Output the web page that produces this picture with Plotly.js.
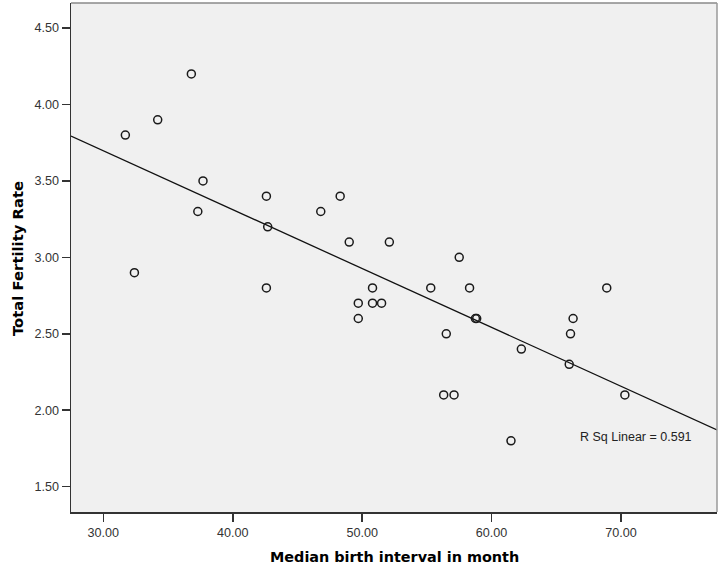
<!DOCTYPE html>
<html>
<head>
<meta charset="utf-8">
<script src="https://cdn.plot.ly/plotly-3.0.1.min.js"></script>
<style>html,body{margin:0;padding:0;background:#fff}#chart{width:718px;height:569px}</style>
</head>
<body>
<div id="chart"></div>
<script>
// Median birth interval (months)
const birthInterval = [31.7, 34.2, 36.8, 37.7, 37.3, 32.4, 42.6, 42.7, 42.6, 46.8, 48.3, 49.0, 52.1, 50.8, 49.7, 50.8, 51.5, 49.7, 55.3, 57.5, 58.3, 58.75, 58.85, 56.5, 56.3, 57.1, 62.3, 68.9, 66.3, 66.1, 66.0, 70.3, 61.5];
// Total fertility rate
const fertilityRate = [3.8, 3.9, 4.2, 3.5, 3.3, 2.9, 3.4, 3.2, 2.8, 3.3, 3.4, 3.1, 3.1, 2.8, 2.7, 2.7, 2.7, 2.6, 2.8, 3.0, 2.8, 2.6, 2.6, 2.5, 2.1, 2.1, 2.4, 2.8, 2.6, 2.5, 2.3, 2.1, 1.8];
const xTickVals = [30, 40, 50, 60, 70];
const xTickText = ["30.00", "40.00", "50.00", "60.00", "70.00"];
const yTickVals = [1.5, 2.0, 2.5, 3.0, 3.5, 4.0, 4.5];
const yTickText = ["1.50", "2.00", "2.50", "3.00", "3.50", "4.00", "4.50"];
const rSqLabel = "R Sq Linear = 0.591";

// least squares fit line from the data
const n = birthInterval.length;
const mx = birthInterval.reduce((a, b) => a + b, 0) / n;
const my = fertilityRate.reduce((a, b) => a + b, 0) / n;
let sxy = 0, sxx = 0;
for (let i = 0; i < n; i++) { sxy += (birthInterval[i] - mx) * (fertilityRate[i] - my); sxx += (birthInterval[i] - mx) ** 2; }
const slope = sxy / sxx, intercept = my - slope * mx;
const xRange = [27.5, 77.42];
const yRange = [1.334, 4.664];
const fitX = xRange.slice();
const fitY = fitX.map(x => intercept + slope * x);

const tickFont = {family: "Liberation Sans, Arial, sans-serif", size: 12.6, color: "#333"};

const data = [
  {x: fitX, y: fitY, mode: "lines", type: "scatter", line: {color: "#111", width: 1.3}, hoverinfo: "skip", cliponaxis: true},
  {x: birthInterval, y: fertilityRate, mode: "markers", type: "scatter",
   marker: {symbol: "circle-open", size: 8, color: "#1a1a1a", line: {width: 1.5, color: "#1a1a1a"}}}
];

const layout = {
  width: 718, height: 569,
  margin: {l: 71, r: 1, t: 3, b: 57},
  paper_bgcolor: "#ffffff",
  plot_bgcolor: "#f0f0f0",
  showlegend: false,
  xaxis: {range: xRange, tickvals: xTickVals, ticktext: xTickText, showgrid: false, zeroline: false,
          showline: true, linecolor: "#333", linewidth: 1.5, ticks: "outside", ticklen: 8, tickwidth: 1.5, tickcolor: "#333",
          tickfont: tickFont},
  yaxis: {range: yRange, tickvals: yTickVals, ticktext: yTickText, showgrid: false, zeroline: false,
          showline: true, linecolor: "#333", linewidth: 1.5, ticks: "outside", ticklen: 8, tickwidth: 1.5, tickcolor: "#333",
          tickfont: tickFont},
  shapes: [
    {type: "line", xref: "paper", yref: "paper", x0: 0, x1: 1, y0: 1, y1: 1, line: {color: "#8a8a8a", width: 1.5}},
    {type: "line", xref: "paper", yref: "paper", x0: 1, x1: 1, y0: 0, y1: 1, line: {color: "#9a9a9a", width: 1.5}}
  ],
  annotations: [
    {text: rSqLabel, xref: "paper", yref: "paper", x: 0.785, y: 0.148, xanchor: "left", yanchor: "middle", showarrow: false,
     font: {family: "Liberation Sans, Arial, sans-serif", size: 12.5, color: "#222"}},
    {text: "<b>Median birth interval in month</b>", xref: "paper", yref: "paper", x: 0.501, y: 0, yshift: -45, xanchor: "center", yanchor: "middle",
     showarrow: false, font: {family: "DejaVu Sans, sans-serif", size: 14.4, color: "#000"}},
    {text: "<b>Total Fertility Rate</b>", xref: "paper", yref: "paper", x: 0, xshift: -54, y: 0.497, xanchor: "center", yanchor: "middle",
     textangle: -90, showarrow: false, font: {family: "DejaVu Sans, sans-serif", size: 14.8, color: "#000"}}
  ]
};

Plotly.newPlot("chart", data, layout, {displayModeBar: false, staticPlot: true});
</script>
</body>
</html>
